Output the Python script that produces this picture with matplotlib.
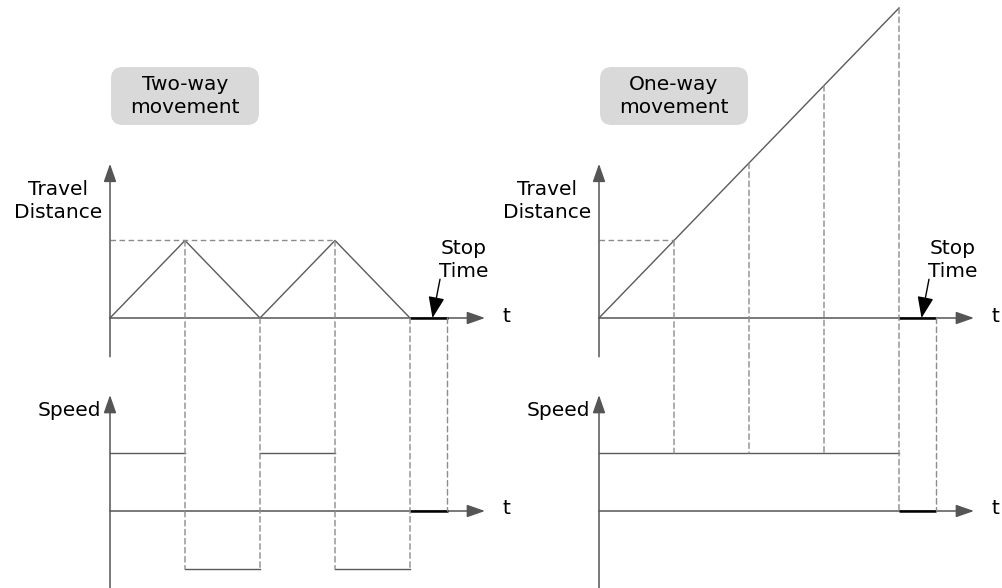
import matplotlib
matplotlib.use("Agg")
import matplotlib.pyplot as plt
from matplotlib.patches import FancyBboxPatch, ConnectionPatch

# data (time in units of one move, distance / speed in relative units)
two_t = [0, 1, 2, 3, 4]
two_dist = [0, 1, 0, 1, 0]
two_speed = [1, -1, 1, -1]          # level on each segment of two_t
one_t = [0, 4]
one_dist = [0, 4]
one_marks = [1, 2, 3, 4]
one_speed = [1]                      # level from 0 to 4
stop_span = [4, 4.5]

W, H = 1003, 588
XU, DU, SU = 75.0, 77.5, 58.0       # pixels per unit

plt.rcParams['font.family'] = ['DejaVu Sans']
fig = plt.figure(figsize=(W / 100, H / 100), dpi=100)

AX_C = '#555555'
LINE_C = '#5a5a5a'
DASH_C = '#8c8c8c'
FS = 14.5


def place(x0, y0, xlim, ylim, xu, yu):
    # x0, y0 = pixel position of data origin
    left = x0 + xlim[0] * xu
    top = y0 - ylim[1] * yu
    w = (xlim[1] - xlim[0]) * xu
    h = (ylim[1] - ylim[0]) * yu
    ax = fig.add_axes([left / W, 1 - (top + h) / H, w / W, h / H])
    ax.set_xlim(*xlim)
    ax.set_ylim(*ylim)
    ax.axis('off')
    return ax


def axis_arrows(ax, ybot, ytop, tend):
    kw = dict(arrowstyle='-|>,head_length=1.0,head_width=0.35', color=AX_C,
              lw=1.1, mutation_scale=11, shrinkA=0, shrinkB=0)
    ax.annotate('', xy=(0, ytop), xytext=(0, ybot), arrowprops=kw, annotation_clip=False)
    ax.annotate('', xy=(tend, 0), xytext=(0, 0), arrowprops=kw, annotation_clip=False)


def dash_link(axa, pa, axb, pb):
    con = ConnectionPatch(xyA=pa, coordsA=axa.transData, xyB=pb, coordsB=axb.transData,
                          color=DASH_C, lw=1.0, linestyle=(0, (4, 2.5)))
    fig.add_artist(con)


def stop_marks(axd, axs):
    for ax in (axd, axs):
        ax.plot(stop_span, [0, 0], color='black', lw=1.8, solid_capstyle='butt', zorder=5)
    axd.annotate('', xy=(4.3, 0), xytext=(4.4, 0.5),
                 arrowprops=dict(arrowstyle='-|>,head_length=1.0,head_width=0.38', color='black',
                                 lw=1.0, mutation_scale=13, shrinkA=0, shrinkB=0))


panels = []
for x0 in (110, 599):
    axd = place(x0, 318, (-0.1, 5.2), (-0.6, 4.1), XU, DU)
    axs = place(x0, 511, (-0.1, 5.2), (-1.4, 2.1), XU, SU)
    axis_arrows(axd, -0.5, 1.99, 5.0)
    axis_arrows(axs, -1.35, 2.0, 5.0)
    panels.append((axd, axs))

# two-way movement
axd, axs = panels[0]
axd.plot(two_t, two_dist, color=LINE_C, lw=1.0)
for i, v in enumerate(two_speed):
    axs.plot([two_t[i], two_t[i + 1]], [v, v], color=LINE_C, lw=1.0)
axd.plot([0, two_t[3]], [max(two_dist)] * 2, color=DASH_C, lw=1.0, linestyle=(0, (4, 2.5)))
levels = two_speed + [0]
for i, t in enumerate(two_t[1:]):
    dash_link(axd, (t, two_dist[i + 1]), axs, (t, min(levels[i], levels[i + 1])))
dash_link(axd, (stop_span[1], 0), axs, (stop_span[1], 0))
stop_marks(axd, axs)

# one-way movement
axd, axs = panels[1]
axd.plot(one_t, one_dist, color=LINE_C, lw=1.0)
axs.plot(one_t, one_speed * 2, color=LINE_C, lw=1.0)
axd.plot([0, one_marks[0]], [one_marks[0]] * 2, color=DASH_C, lw=1.0, linestyle=(0, (4, 2.5)))
for t in one_marks:
    end = one_speed[0] if t < one_t[-1] else 0
    dash_link(axd, (t, t), axs, (t, end))
dash_link(axd, (stop_span[1], 0), axs, (stop_span[1], 0))
stop_marks(axd, axs)

# labels and boxes in pixel coordinates
lay = fig.add_axes([0, 0, 1, 1])
lay.set_xlim(0, W)
lay.set_ylim(H, 0)
lay.axis('off')
lay.patch.set_alpha(0)

for x0, title in ((110, 'Two-way\nmovement'), (599, 'One-way\nmovement')):
    lay.add_patch(FancyBboxPatch((x0 + 1, 67), 148, 58, boxstyle='round,pad=0,rounding_size=12',
                                 fc='#d9d9d9', ec='none'))
    lay.text(x0 + 75, 96, title, ha='center', va='center', fontsize=FS, linespacing=1.3)
    lay.text(x0 - 52, 201, 'Travel\nDistance', ha='center', va='center', fontsize=FS,
             linespacing=1.3)
    lay.text(x0 - 9, 410, 'Speed', ha='right', va='center', fontsize=FS)
    for y in (318, 511):
        lay.text(x0 + 396, y - 2, 't', ha='center', va='center', fontsize=FS)
    lay.text(x0 + 354, 260, 'Stop\nTime', ha='center', va='center', fontsize=FS,
             linespacing=1.3)

fig.savefig('out.png', dpi=100)
